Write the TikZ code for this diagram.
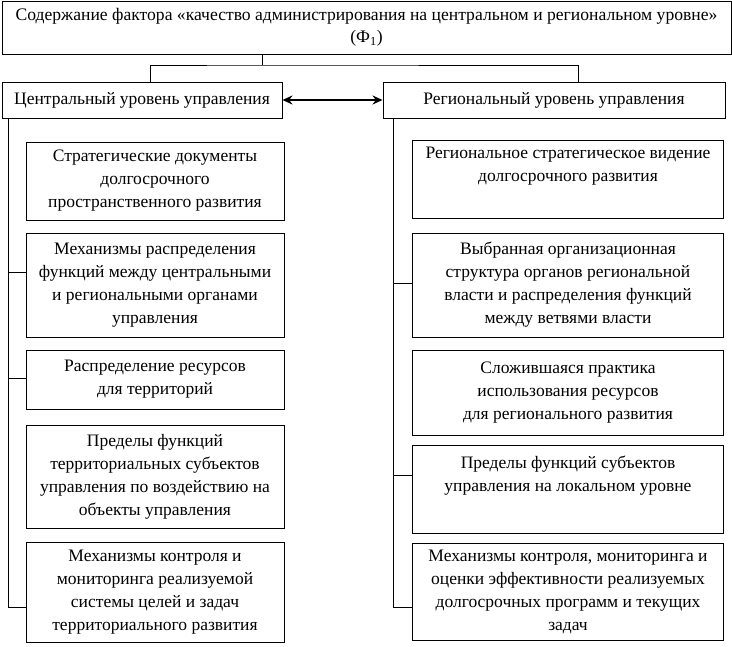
\documentclass[tikz,border=0pt]{standalone}
\usepackage{fontspec}
\setmainfont{Liberation Serif}
\usetikzlibrary{arrows.meta,calc}
\begin{document}
\begin{tikzpicture}[x=1pt,y=1pt,
  box/.style={draw,line width=0.9pt,rectangle,inner sep=0pt,align=center,font=\fontsize{17.5}{23}\selectfont},
  ln/.style={line width=0.9pt},
]
\useasboundingbox (0,0) rectangle (732,-647);
% top
\node[box,font=\fontsize{17.6}{22}\selectfont,minimum width=729,minimum height=53] (top) at (366.5,-27.5)
 {Содержание фактора «качество администрирования на центральном и региональном уровне»\\(Ф\textsubscript{1})};
\node[box,minimum width=280,minimum height=36] (lh) at (142,-100) {Центральный уровень управления};
\node[box,minimum width=342,minimum height=36] (rh) at (554,-100) {Региональный уровень управления};
\coordinate (split) at (262,-65);
\draw[ln] (top.south -| split) -- (split);
\draw[ln] (lh.north -| 150,0) |- (split) -| (rh.north -| 578,0);
\draw[line width=1.6pt,{Stealth[length=10pt,width=9pt]}-{Stealth[length=10pt,width=9pt]}] (lh.east) -- (rh.east -| rh.west);
% left boxes
\node[box,minimum width=258,minimum height=78] (l1) at (155,-181)
 {Стратегические документы\\долгосрочного\\пространственного развития};
\node[box,minimum width=258,minimum height=104] (l2) at (155,-285)
 {Механизмы распределения\\функций между центральными\\и региональными органами\\управления};
\node[box,minimum width=258,minimum height=59] (l3) at (155,-379.5)
 {Распределение ресурсов\\для территорий};
\node[box,minimum width=258,minimum height=103] (l4) at (155,-476.5)
 {Пределы функций\\территориальных субъектов\\управления по воздействию на\\объекты управления};
\node[box,minimum width=258,minimum height=100] (l5) at (155,-592)
 {Механизмы контроля и\\мониторинга реализуемой\\системы целей и задач\\территориального развития};
% right boxes
\node[box,minimum width=311,minimum height=78] (r1) at (568,-179)
 {\rule{0pt}{10pt}Региональное стратегическое видение\\долгосрочного развития\\\strut};
\node[box,minimum width=311,minimum height=104] (r2) at (568,-285)
 {Выбранная организационная\\структура органов региональной\\власти и распределения функций\\между ветвями власти};
\node[box,minimum width=311,minimum height=85] (r3) at (568,-392.5)
 {Сложившаяся практика\\использования ресурсов\\для регионального развития};
\node[box,minimum width=311,minimum height=88] (r4) at (568,-489)
 {Пределы функций субъектов\\управления на локальном уровне\\\strut};
\node[box,minimum width=311,minimum height=97] (r5) at (568,-591.5)
 {Механизмы контроля, мониторинга и\\оценки эффективности реализуемых\\долгосрочных программ и текущих\\задач};
% buses
\coordinate (lb) at (8,-118);
\coordinate (rb) at (393,-118);
\draw[ln] (lb) -- (lb |- 0,-607) -- ([yshift=-15]l5.west);
\draw[ln] (lb |- 0,-272) -- ([yshift=13]l2.west);
\draw[ln] (lb |- 0,-378) -- ([yshift=1.5]l3.west);
\draw[ln] (rb) -- (rb |- 0,-607) -- ([yshift=-15.5]r5.west);
\draw[ln] (rb |- 0,-283) -- ([yshift=2]r2.west);
\draw[ln] (rb |- 0,-475) -- ([yshift=14]r4.west);
\end{tikzpicture}
\end{document}
